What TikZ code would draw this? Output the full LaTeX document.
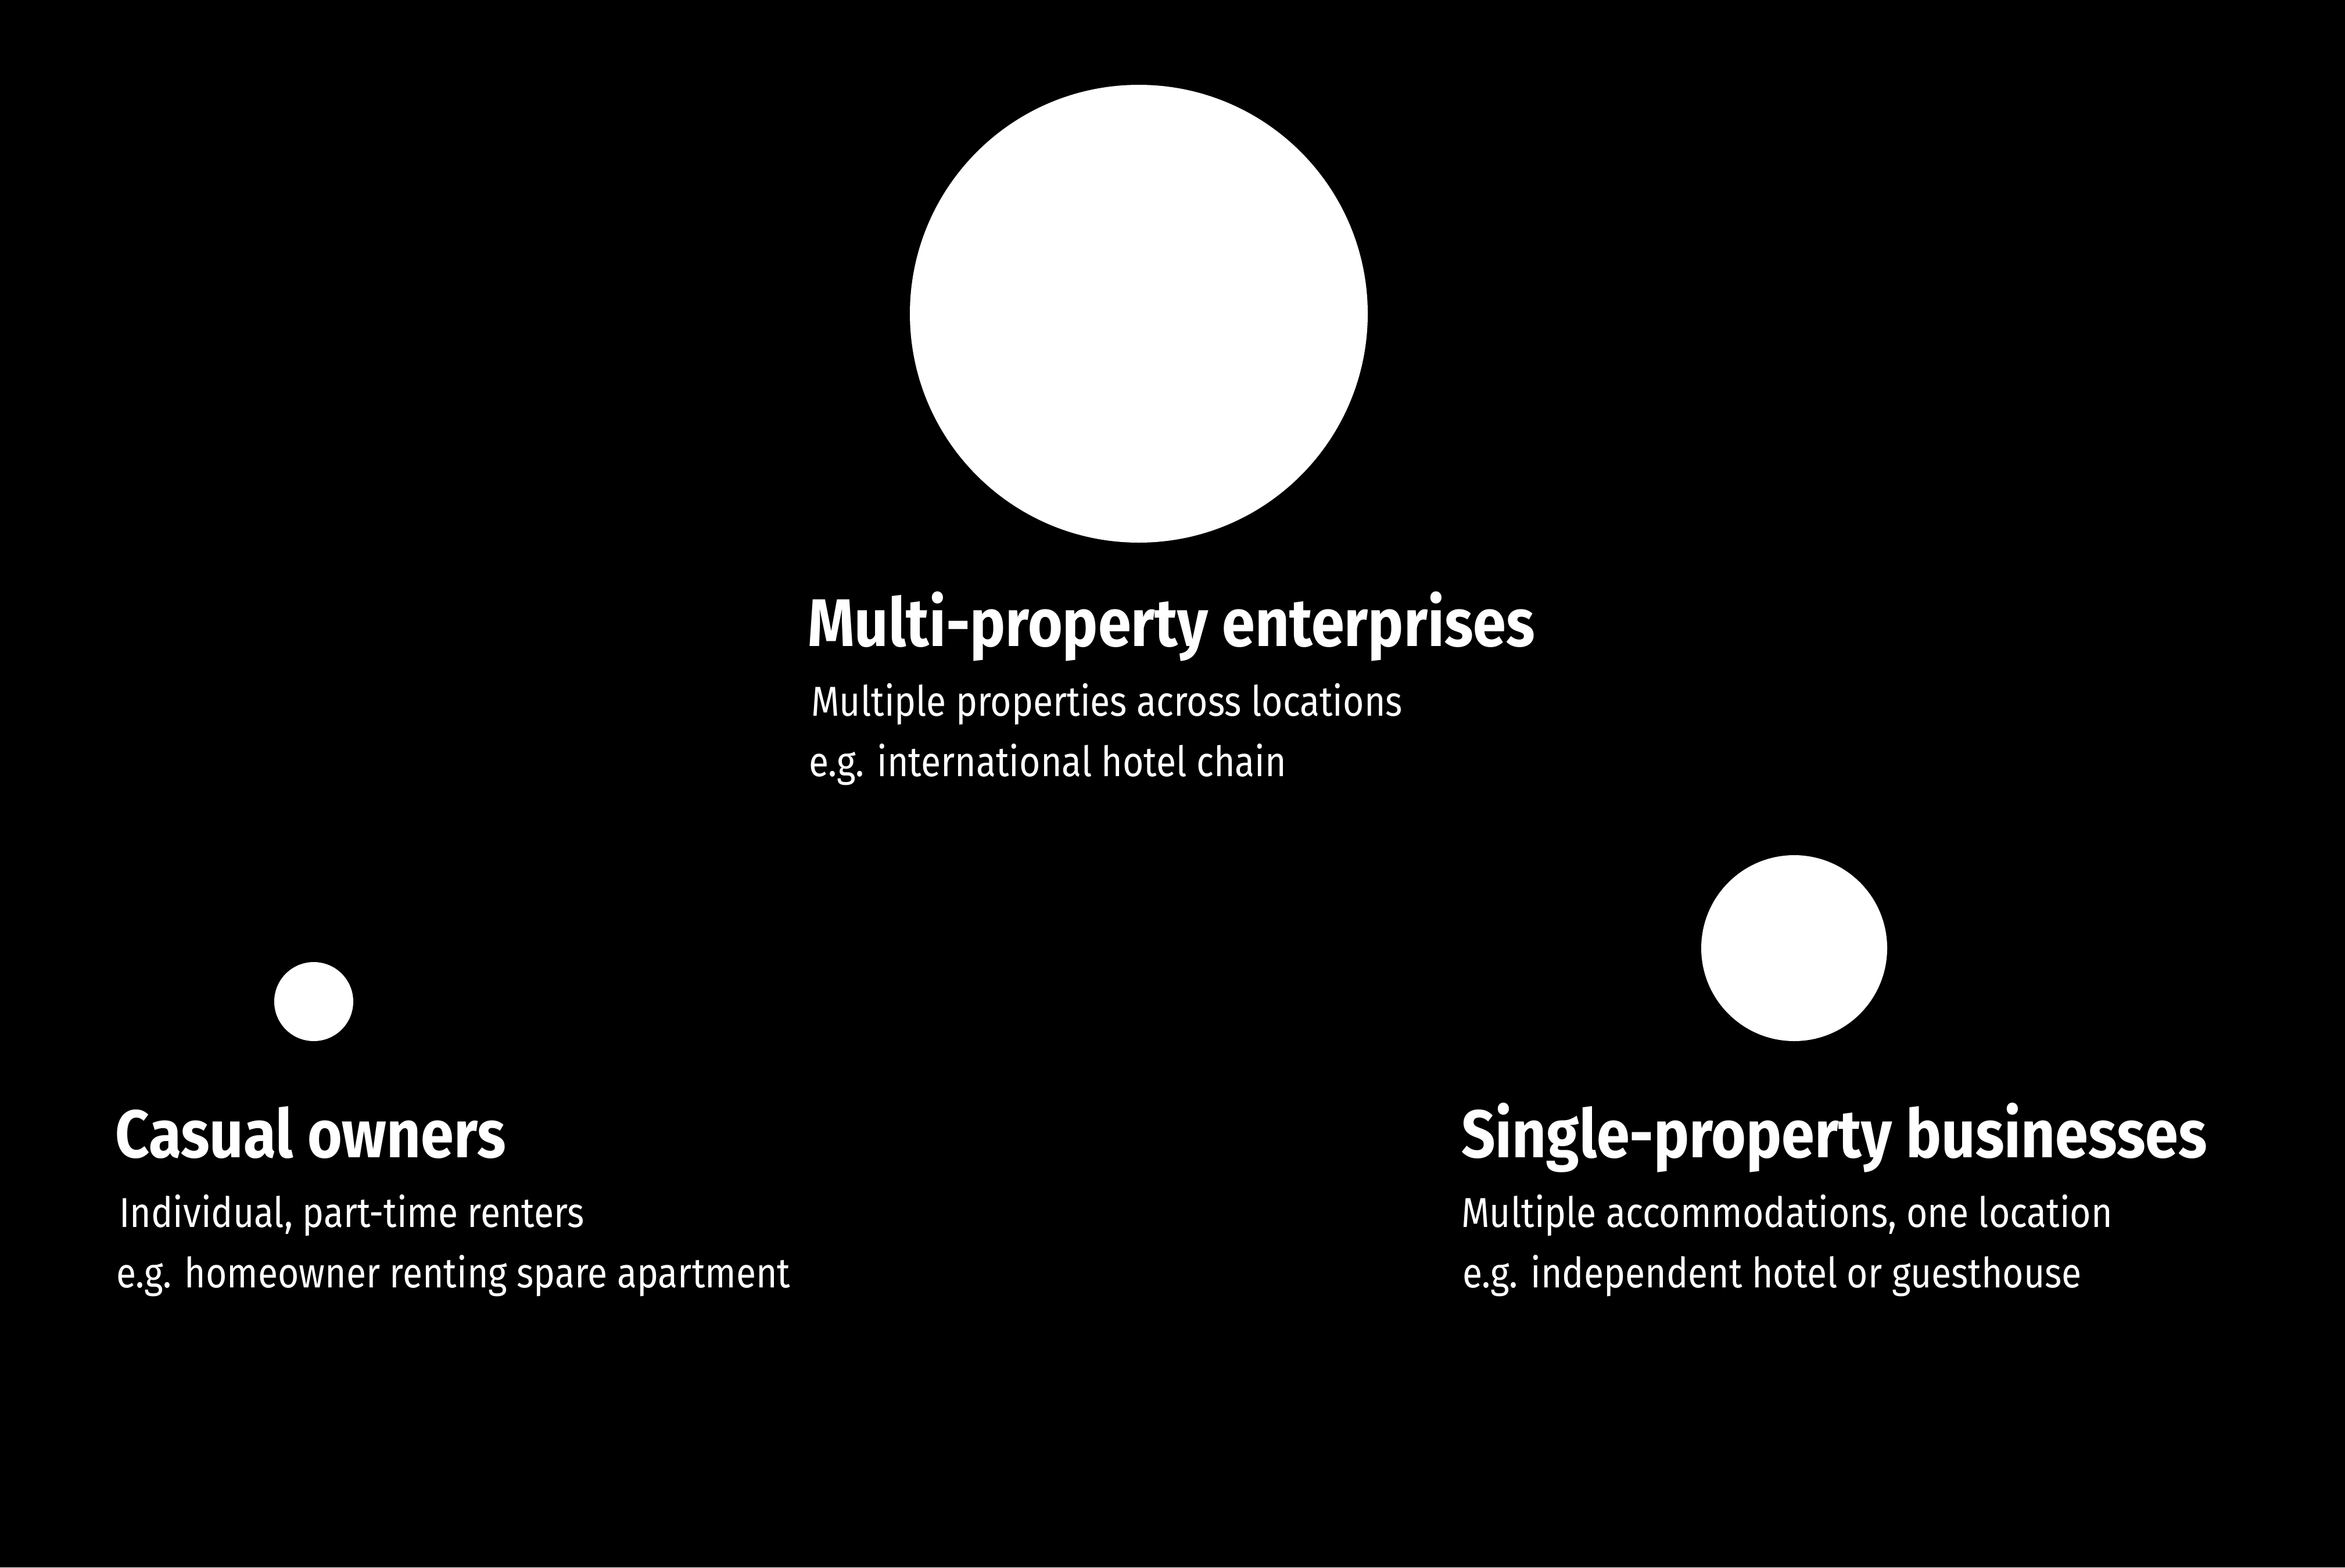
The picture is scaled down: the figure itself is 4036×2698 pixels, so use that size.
\documentclass[tikz,border=0pt]{standalone}
\usepackage{fontspec}
\setmainfont{Fira Sans}[FakeStretch=0.868]
\newfontfamily\titlefont{Fira Sans Bold}[FakeStretch=0.883]
\begin{document}
\begin{tikzpicture}[x=1pt,y=-1pt,
  dot/.style={circle,fill=white,draw=none,inner sep=0pt},
  ttl/.style={anchor=base west,inner sep=0pt,text=white,font=\titlefont\fontsize{116}{120}\selectfont},
  sub/.style={anchor=base west,inner sep=0pt,text=white,font=\fontsize{72}{80}\selectfont}]
\fill[black] (0,0) rectangle (4036,2698);
\useasboundingbox (0,0) rectangle (4036,2698);
% circles
\node[dot,minimum size=788pt] (big) at (1960,540) {};
\node[dot,minimum size=320pt] (mid) at (3088,1632) {};
\node[dot,minimum size=136pt] (small) at (540,1724) {};
% multi-property
\node[ttl] (t1) at (1390,1112) {Multi-property enterprises};
\node[sub] (t1a) at (1396,1232) {Multiple properties across locations};
\node[sub] (t1b) at (1392,1336) {e.g. international hotel chain};
% casual
\node[ttl] (t2) at (198,1992) {Casual owners};
\node[sub] (t2a) at (205,2112) {Individual, part-time renters};
\node[sub] (t2b) at (200,2216) {e.g. homeowner renting spare apartment};
% single
\node[ttl] (t3) at (2515,1992) {Single-property businesses};
\node[sub] (t3a) at (2515,2112) {Multiple accommodations, one location};
\node[sub] (t3b) at (2517,2216) {e.g. independent hotel or guesthouse};
\end{tikzpicture}
\end{document}
